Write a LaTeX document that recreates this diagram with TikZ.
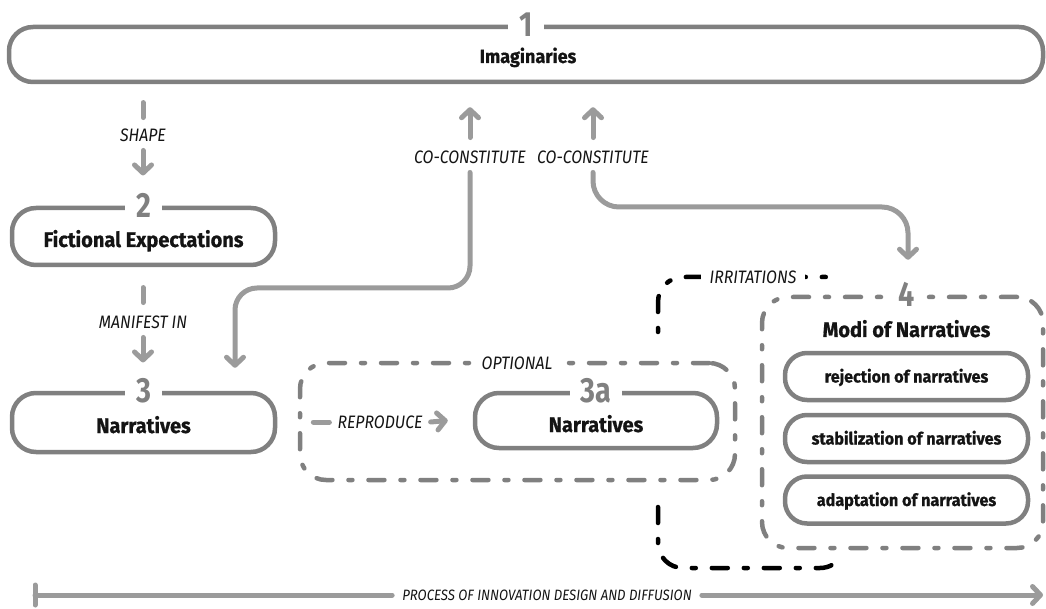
\documentclass[tikz,border=0pt]{standalone}
\usepackage{fontspec}
\setmainfont{Fira Sans}
\newfontfamily\tfont[FakeStretch=0.95,BoldFeatures={FakeBold=0.8}]{Fira Sans}
\newfontfamily\nfont[FakeStretch=0.82]{Fira Sans}
\newfontfamily\lfont[FakeStretch=0.88]{Fira Sans}
\usetikzlibrary{arrows.meta,calc}
\definecolor{bgray}{RGB}{128,128,128}
\definecolor{cgray}{RGB}{155,155,155}
\definecolor{ink}{RGB}{20,20,20}
\begin{document}
\begin{tikzpicture}[x=1pt,y=-1pt,
  pill/.style={draw=bgray,line width=4.5pt,rounded corners=24pt,fill=white,inner sep=0pt},
  dbox/.style={draw=bgray,line width=4.5pt,rounded corners=26pt,dash pattern=on 16pt off 16pt on 4pt off 16pt,line cap=round,inner sep=0pt},
  num/.style={fill=white,text=bgray,font=\nfont\bfseries\fontsize{35}{35}\selectfont,inner xsep=11pt,inner ysep=0pt},
  ttl/.style={text=ink,font=\tfont\bfseries\fontsize{21}{24}\selectfont,inner sep=0pt,anchor=base},
  item/.style={pill,rounded corners=22pt,minimum width=243pt,minimum height=47pt,text=ink,font=\tfont\bfseries\fontsize{17}{20}\selectfont,text height=14pt,text depth=2pt},
  lbl/.style={text=ink,font=\lfont\itshape\fontsize{18}{18}\selectfont,inner xsep=0pt,inner ysep=0pt,text height=12.5pt,text depth=0pt},
  conn/.style={draw=cgray,line width=5pt,line cap=round,rounded corners=22pt},
  arr/.style={-{Straight Barb[length=8pt,width=17pt,line cap=round,line join=round]}},
  irr/.style={draw=black,line width=4.5pt,dash pattern=on 16pt off 16pt on 4pt off 16pt,line cap=round},
]
\useasboundingbox (0,0) rectangle (1046,609);

% ---------- box 1
\node[pill,minimum width=1034pt,minimum height=55pt] (b1) at (526,54.5) {};
\node[num] (n1) at (b1.north) {1};
\node[ttl,font=\tfont\bfseries\fontsize{19}{22}\selectfont] (t1) at (528,63) {Imaginaries};

% ---------- box 2
\node[pill,minimum width=263pt,minimum height=57pt] (b2) at (143.5,236.5) {};
\node[num] (n2) at (b2.north) {2};
\node[ttl] (t2) at ($(b2.center)+(0,10.5)$) {Fictional Expectations};

% ---------- box 3
\node[pill,minimum width=263pt,minimum height=59pt] (b3) at (143.5,422.5) {};
\node[num] (n3) at (b3.north) {3};
\node[ttl] (t3) at ($(b3.center)+(0,10.5)$) {Narratives};

% ---------- optional box with 3a
\node[dbox,minimum width=435pt,minimum height=117pt] (opt) at (517.5,421.5) {};
\node[lbl,fill=white,inner xsep=9pt] (optl) at (517,363) {OPTIONAL};
\node[pill,minimum width=242pt,minimum height=55pt] (b3a) at (596,420.5) {};
\node[num] (n3a) at (b3a.north) {3a};
\node[ttl] (t3a) at ($(b3a.center)+(0,11.5)$) {Narratives};

% ---------- box 4
\node[dbox,minimum width=281pt,minimum height=251pt] (b4) at (902.5,422.5) {};
\node[item] (m1) at (906.5,376.5) {rejection of narratives};
\node[item] (m2) at (906.5,438.5) {stabilization of narratives};
\node[item] (m3) at (906.5,500) {adaptation of narratives};
\node[num] (n4) at (b4.north -| m1) {4};
\node[ttl] (t4) at (906.5,337) {Modi of Narratives};

% ---------- shape
\node[lbl] (shape) at (143,135) {SHAPE};
\draw[conn] ($(shape.north)+(0,-11)$) -- ($(shape.north)+(0,-26)$);
\draw[conn,arr] ($(shape.south)+(0,9)$) -- ($(shape.south)+(0,34)$);

% ---------- manifest in
\node[lbl] (man) at (143,322) {MANIFEST IN};
\draw[conn] ($(man.north)+(0,-13)$) -- ($(man.north)+(0,-28)$);
\draw[conn,arr] ($(man.south)+(0,9)$) -- ($(man.south)+(0,34)$);

% ---------- co-constitute 1
\node[lbl] (cc1) at (470,157) {CO-CONSTITUTE};
\draw[conn,arr] ($(cc1.north)+(0,-13)$) -- ($(cc1.north |- b1.south)+(0,23)$);
\coordinate (k1) at (235,288);
\draw[conn,arr] ($(cc1.south)+(0,9)$) |- (k1) -- ($(b3.north -| k1)+(0,-23)$);

% ---------- co-constitute 2
\node[lbl] (cc2) at (593,157) {CO-CONSTITUTE};
\draw[conn,arr] ($(cc2.north)+(0,-13)$) -- ($(cc2.north |- b1.south)+(0,23)$);
\coordinate (k2) at (908,207);
\draw[conn,arr,rounded corners=26pt] ($(cc2.south)+(0,9)$) |- (k2) -- ($(b4.north -| k2)+(0,-35)$);

% ---------- reproduce
\node[lbl] (rep) at (380,422) {REPRODUCE};
\draw[conn] ($(rep.west)+(-24,0)$) -- ($(rep.west)+(-8,0)$);
\draw[conn,arr] ($(rep.east)+(8,0)$) -- ($(b3a.west)+(-25,0)$);

% ---------- irritations
\draw[irr,dash phase=32pt] (658,332) -- (658,302) arc[start angle=180,end angle=270,radius=25] -- (828,277) arc[start angle=270,end angle=300,radius=25];
\draw[irr] (658,507) -- (658,543) arc[start angle=180,end angle=90,radius=25] -- (820,568) arc[start angle=90,end angle=30,radius=25];
\node[lbl,fill=white,inner xsep=9pt] (irl) at (753,277) {IRRITATIONS};

% ---------- process
\coordinate (ps) at (35,595);
\coordinate (pe) at (1043,595);
\node[lbl,fill=white,inner xsep=10pt,font=\lfont\itshape\fontsize{15}{16}\selectfont,text height=11pt] (proc) at (547,595) {PROCESS OF INNOVATION DESIGN AND DIFFUSION};
\draw[conn] ($(ps)+(0,-10)$) -- ($(ps)+(0,10)$);
\draw[conn] (ps) -- (proc.west);
\draw[conn,arr] (proc.east) -- (pe);
\end{tikzpicture}
\end{document}
